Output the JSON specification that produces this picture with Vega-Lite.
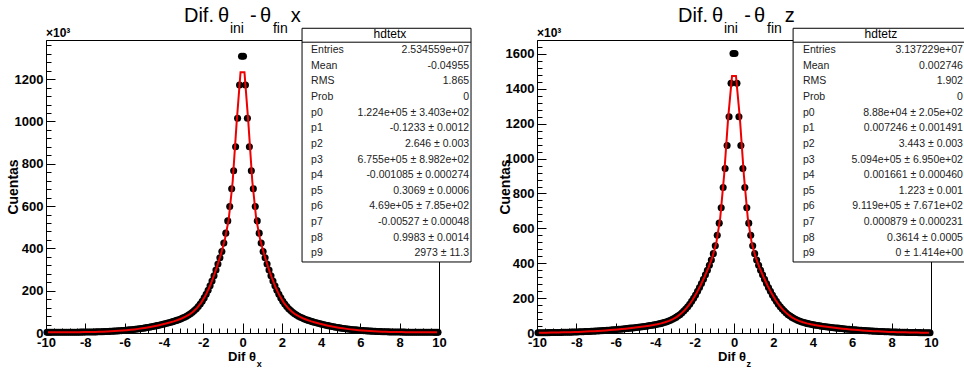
{
"$schema": "https://vega.github.io/schema/vega-lite/v6.json",
"background": "white",
"padding": {"left": 5, "top": 5, "right": 0, "bottom": 0},
"bounds": "flush",
"spacing": 98,
"config": {
  "font": "Liberation Sans",
  "view": {"stroke": "#000", "strokeWidth": 1},
  "axis": {"domainColor": "#000", "tickColor": "#000", "labelColor": "#000", "titleColor": "#000", "labelFont": "Liberation Sans", "labelFontWeight": "bold", "labelFontSize": 13, "titleFont": "Liberation Sans", "titleFontWeight": "bold", "titleFontSize": 14, "grid": false, "tickWidth": 1, "domainWidth": 1, "labelOverlap": false, "labelBound": false, "tickCount": 200},
  "text": {"font": "Liberation Sans", "color": "#000"}
},
"datasets": {
"dl": [
{"x":-9.95,"y":3.1},{"x":-9.85,"y":3.1},{"x":-9.75,"y":3.1},{"x":-9.65,"y":3.2},{"x":-9.55,"y":3.2},{"x":-9.45,"y":3.2},{"x":-9.35,"y":3.3},{"x":-9.25,"y":3.3},{"x":-9.15,"y":3.3},{"x":-9.05,"y":3.4},
{"x":-8.95,"y":3.4},{"x":-8.85,"y":3.5},{"x":-8.75,"y":3.6},{"x":-8.65,"y":3.6},{"x":-8.55,"y":3.7},{"x":-8.45,"y":3.8},{"x":-8.35,"y":3.9},{"x":-8.25,"y":4.0},{"x":-8.15,"y":4.2},{"x":-8.05,"y":4.3},
{"x":-7.95,"y":4.4},{"x":-7.85,"y":4.5},{"x":-7.75,"y":4.7},{"x":-7.65,"y":4.9},{"x":-7.55,"y":5.1},{"x":-7.45,"y":5.3},{"x":-7.35,"y":5.6},{"x":-7.25,"y":5.9},{"x":-7.15,"y":6.2},{"x":-7.05,"y":6.5},
{"x":-6.95,"y":6.9},{"x":-6.85,"y":7.3},{"x":-6.75,"y":7.8},{"x":-6.65,"y":8.2},{"x":-6.55,"y":8.7},{"x":-6.45,"y":9.3},{"x":-6.35,"y":10.0},{"x":-6.25,"y":10.6},{"x":-6.15,"y":11.3},{"x":-6.05,"y":12.0},
{"x":-5.95,"y":12.8},{"x":-5.85,"y":13.8},{"x":-5.75,"y":14.7},{"x":-5.65,"y":15.6},{"x":-5.55,"y":16.6},{"x":-5.45,"y":17.7},{"x":-5.35,"y":18.9},{"x":-5.25,"y":20.1},{"x":-5.15,"y":21.4},{"x":-5.05,"y":22.8},
{"x":-4.95,"y":24.2},{"x":-4.85,"y":25.8},{"x":-4.75,"y":27.4},{"x":-4.65,"y":29.1},{"x":-4.55,"y":30.9},{"x":-4.45,"y":32.7},{"x":-4.35,"y":34.7},{"x":-4.25,"y":36.7},{"x":-4.15,"y":38.8},{"x":-4.05,"y":41.0},
{"x":-3.95,"y":43.3},{"x":-3.85,"y":45.7},{"x":-3.75,"y":48.2},{"x":-3.65,"y":50.9},{"x":-3.55,"y":53.6},{"x":-3.45,"y":56.5},{"x":-3.35,"y":59.6},{"x":-3.25,"y":63.0},{"x":-3.15,"y":66.5},{"x":-3.05,"y":70.4},
{"x":-2.95,"y":74.7},{"x":-2.85,"y":79.5},{"x":-2.75,"y":85},{"x":-2.65,"y":91},{"x":-2.55,"y":98},{"x":-2.45,"y":106},{"x":-2.35,"y":115},{"x":-2.25,"y":125},{"x":-2.15,"y":137},{"x":-2.05,"y":150},
{"x":-1.95,"y":166},{"x":-1.85,"y":183},{"x":-1.75,"y":202},{"x":-1.65,"y":223},{"x":-1.55,"y":246},{"x":-1.45,"y":271},{"x":-1.35,"y":298},{"x":-1.25,"y":326},{"x":-1.15,"y":356},{"x":-1.05,"y":385},
{"x":-0.95,"y":425},{"x":-0.85,"y":472},{"x":-0.75,"y":530},{"x":-0.65,"y":598},{"x":-0.55,"y":682},{"x":-0.45,"y":767},{"x":-0.35,"y":880},{"x":-0.25,"y":1015},{"x":-0.15,"y":1172},{"x":-0.05,"y":1308},
{"x":0.05,"y":1308},{"x":0.15,"y":1172},{"x":0.25,"y":1015},{"x":0.35,"y":880},{"x":0.45,"y":767},{"x":0.55,"y":682},{"x":0.65,"y":598},{"x":0.75,"y":530},{"x":0.85,"y":472},{"x":0.95,"y":425},
{"x":1.05,"y":385},{"x":1.15,"y":356},{"x":1.25,"y":326},{"x":1.35,"y":298},{"x":1.45,"y":271},{"x":1.55,"y":246},{"x":1.65,"y":223},{"x":1.75,"y":202},{"x":1.85,"y":183},{"x":1.95,"y":166},
{"x":2.05,"y":150},{"x":2.15,"y":137},{"x":2.25,"y":125},{"x":2.35,"y":115},{"x":2.45,"y":106},{"x":2.55,"y":98},{"x":2.65,"y":91},{"x":2.75,"y":85},{"x":2.85,"y":79.5},{"x":2.95,"y":74.7},
{"x":3.05,"y":70.4},{"x":3.15,"y":66.5},{"x":3.25,"y":63.0},{"x":3.35,"y":59.6},{"x":3.45,"y":56.5},{"x":3.55,"y":53.6},{"x":3.65,"y":50.9},{"x":3.75,"y":48.2},{"x":3.85,"y":45.7},{"x":3.95,"y":43.3},
{"x":4.05,"y":41.0},{"x":4.15,"y":38.8},{"x":4.25,"y":36.7},{"x":4.35,"y":34.7},{"x":4.45,"y":32.7},{"x":4.55,"y":30.9},{"x":4.65,"y":29.1},{"x":4.75,"y":27.4},{"x":4.85,"y":25.8},{"x":4.95,"y":24.2},
{"x":5.05,"y":22.8},{"x":5.15,"y":21.4},{"x":5.25,"y":20.1},{"x":5.35,"y":18.9},{"x":5.45,"y":17.7},{"x":5.55,"y":16.6},{"x":5.65,"y":15.6},{"x":5.75,"y":14.7},{"x":5.85,"y":13.8},{"x":5.95,"y":12.8},
{"x":6.05,"y":12.0},{"x":6.15,"y":11.3},{"x":6.25,"y":10.6},{"x":6.35,"y":10.0},{"x":6.45,"y":9.3},{"x":6.55,"y":8.7},{"x":6.65,"y":8.2},{"x":6.75,"y":7.8},{"x":6.85,"y":7.3},{"x":6.95,"y":6.9},
{"x":7.05,"y":6.5},{"x":7.15,"y":6.2},{"x":7.25,"y":5.9},{"x":7.35,"y":5.6},{"x":7.45,"y":5.3},{"x":7.55,"y":5.1},{"x":7.65,"y":4.9},{"x":7.75,"y":4.7},{"x":7.85,"y":4.5},{"x":7.95,"y":4.4},
{"x":8.05,"y":4.3},{"x":8.15,"y":4.2},{"x":8.25,"y":4.0},{"x":8.35,"y":3.9},{"x":8.45,"y":3.8},{"x":8.55,"y":3.7},{"x":8.65,"y":3.6},{"x":8.75,"y":3.6},{"x":8.85,"y":3.5},{"x":8.95,"y":3.4},
{"x":9.05,"y":3.4},{"x":9.15,"y":3.3},{"x":9.25,"y":3.3},{"x":9.35,"y":3.3},{"x":9.45,"y":3.2},{"x":9.55,"y":3.2},{"x":9.65,"y":3.2},{"x":9.75,"y":3.1},{"x":9.85,"y":3.1},{"x":9.95,"y":3.1}
],
"fl": [
{"x":-9.9,"y":3.1},{"x":-9.7,"y":3.1},{"x":-9.5,"y":3.2},{"x":-9.3,"y":3.3},{"x":-9.1,"y":3.4},{"x":-8.9,"y":3.5},{"x":-8.7,"y":3.6},{"x":-8.5,"y":3.7},{"x":-8.3,"y":3.9},{"x":-8.1,"y":4.2},
{"x":-7.9,"y":4.5},{"x":-7.7,"y":4.8},{"x":-7.5,"y":5.2},{"x":-7.3,"y":5.8},{"x":-7.1,"y":6.4},{"x":-6.9,"y":7.1},{"x":-6.7,"y":8.0},{"x":-6.5,"y":9.0},{"x":-6.3,"y":10.3},{"x":-6.1,"y":11.7},
{"x":-5.9,"y":13.2},{"x":-5.7,"y":15.0},{"x":-5.5,"y":17.1},{"x":-5.3,"y":19.5},{"x":-5.1,"y":22.1},{"x":-4.9,"y":25.0},{"x":-4.7,"y":28.3},{"x":-4.5,"y":31.8},{"x":-4.3,"y":35.7},{"x":-4.1,"y":39.9},
{"x":-3.9,"y":44.5},{"x":-3.7,"y":49.6},{"x":-3.5,"y":55.0},{"x":-3.3,"y":61.2},{"x":-3.1,"y":68.4},{"x":-2.9,"y":77.0},{"x":-2.7,"y":87.8},{"x":-2.5,"y":101.7},{"x":-2.3,"y":119.9},{"x":-2.1,"y":143.6},
{"x":-1.9,"y":174.3},{"x":-1.7,"y":212.6},{"x":-1.5,"y":258.9},{"x":-1.3,"y":312.4},{"x":-1.1,"y":372.0},{"x":-0.9,"y":440.3},{"x":-0.7,"y":538.0},{"x":-0.5,"y":716.0},{"x":-0.3,"y":991.8},{"x":-0.1,"y":1232.6},
{"x":0.1,"y":1232.6},{"x":0.3,"y":991.8},{"x":0.5,"y":716.0},{"x":0.7,"y":538.0},{"x":0.9,"y":440.3},{"x":1.1,"y":372.0},{"x":1.3,"y":312.4},{"x":1.5,"y":258.9},{"x":1.7,"y":212.6},{"x":1.9,"y":174.3},
{"x":2.1,"y":143.6},{"x":2.3,"y":119.9},{"x":2.5,"y":101.7},{"x":2.7,"y":87.8},{"x":2.9,"y":77.0},{"x":3.1,"y":68.4},{"x":3.3,"y":61.2},{"x":3.5,"y":55.0},{"x":3.7,"y":49.6},{"x":3.9,"y":44.5},
{"x":4.1,"y":39.9},{"x":4.3,"y":35.7},{"x":4.5,"y":31.8},{"x":4.7,"y":28.3},{"x":4.9,"y":25.0},{"x":5.1,"y":22.1},{"x":5.3,"y":19.5},{"x":5.5,"y":17.1},{"x":5.7,"y":15.0},{"x":5.9,"y":13.2},
{"x":6.1,"y":11.7},{"x":6.3,"y":10.3},{"x":6.5,"y":9.0},{"x":6.7,"y":8.0},{"x":6.9,"y":7.1},{"x":7.1,"y":6.4},{"x":7.3,"y":5.8},{"x":7.5,"y":5.2},{"x":7.7,"y":4.8},{"x":7.9,"y":4.5},
{"x":8.1,"y":4.2},{"x":8.3,"y":3.9},{"x":8.5,"y":3.7},{"x":8.7,"y":3.6},{"x":8.9,"y":3.5},{"x":9.1,"y":3.4},{"x":9.3,"y":3.3},{"x":9.5,"y":3.2},{"x":9.7,"y":3.1},{"x":9.9,"y":3.1}
],
"dr": [
{"x":-9.95,"y":1.4},{"x":-9.85,"y":1.5},{"x":-9.75,"y":1.6},{"x":-9.65,"y":1.8},{"x":-9.55,"y":1.9},{"x":-9.45,"y":2.1},{"x":-9.35,"y":2.2},{"x":-9.25,"y":2.4},{"x":-9.15,"y":2.6},{"x":-9.05,"y":2.8},
{"x":-8.95,"y":3.0},{"x":-8.85,"y":3.2},{"x":-8.75,"y":3.5},{"x":-8.65,"y":3.8},{"x":-8.55,"y":4.1},{"x":-8.45,"y":4.4},{"x":-8.35,"y":4.7},{"x":-8.25,"y":5.0},{"x":-8.15,"y":5.4},{"x":-8.05,"y":5.8},
{"x":-7.95,"y":6.2},{"x":-7.85,"y":6.7},{"x":-7.75,"y":7.1},{"x":-7.65,"y":7.6},{"x":-7.55,"y":8.1},{"x":-7.45,"y":8.6},{"x":-7.35,"y":9.1},{"x":-7.25,"y":9.7},{"x":-7.15,"y":10.3},{"x":-7.05,"y":10.9},
{"x":-6.95,"y":11.6},{"x":-6.85,"y":12.3},{"x":-6.75,"y":13.0},{"x":-6.65,"y":13.8},{"x":-6.55,"y":14.5},{"x":-6.45,"y":15.3},{"x":-6.35,"y":16.2},{"x":-6.25,"y":17.1},{"x":-6.15,"y":18.0},{"x":-6.05,"y":18.9},
{"x":-5.95,"y":19.9},{"x":-5.85,"y":21.0},{"x":-5.75,"y":22.0},{"x":-5.65,"y":23.1},{"x":-5.55,"y":24.2},{"x":-5.45,"y":25.4},{"x":-5.35,"y":26.6},{"x":-5.25,"y":27.8},{"x":-5.15,"y":29.1},{"x":-5.05,"y":30.4},
{"x":-4.95,"y":31.7},{"x":-4.85,"y":33.1},{"x":-4.75,"y":34.5},{"x":-4.65,"y":36.0},{"x":-4.55,"y":37.6},{"x":-4.45,"y":39.2},{"x":-4.35,"y":40.9},{"x":-4.25,"y":42.7},{"x":-4.15,"y":44.5},{"x":-4.05,"y":46.5},
{"x":-3.95,"y":48.8},{"x":-3.85,"y":51.2},{"x":-3.75,"y":53.7},{"x":-3.65,"y":56.6},{"x":-3.55,"y":59.8},{"x":-3.45,"y":63.3},{"x":-3.35,"y":67.3},{"x":-3.25,"y":71.9},{"x":-3.15,"y":77.0},{"x":-3.05,"y":82.8},
{"x":-2.95,"y":89.4},{"x":-2.85,"y":97},{"x":-2.75,"y":105},{"x":-2.65,"y":115},{"x":-2.55,"y":125.5},{"x":-2.45,"y":137},{"x":-2.35,"y":151},{"x":-2.25,"y":165},{"x":-2.15,"y":182},{"x":-2.05,"y":199},
{"x":-1.95,"y":218},{"x":-1.85,"y":239},{"x":-1.75,"y":261},{"x":-1.65,"y":284},{"x":-1.55,"y":308},{"x":-1.45,"y":334},{"x":-1.35,"y":360},{"x":-1.25,"y":388},{"x":-1.15,"y":419},{"x":-1.05,"y":455},
{"x":-0.95,"y":500},{"x":-0.85,"y":560},{"x":-0.75,"y":630},{"x":-0.65,"y":718},{"x":-0.55,"y":834},{"x":-0.45,"y":943},{"x":-0.35,"y":1075},{"x":-0.25,"y":1240},{"x":-0.15,"y":1432},{"x":-0.05,"y":1603},
{"x":0.05,"y":1603},{"x":0.15,"y":1432},{"x":0.25,"y":1240},{"x":0.35,"y":1075},{"x":0.45,"y":943},{"x":0.55,"y":834},{"x":0.65,"y":718},{"x":0.75,"y":630},{"x":0.85,"y":560},{"x":0.95,"y":500},
{"x":1.05,"y":455},{"x":1.15,"y":419},{"x":1.25,"y":388},{"x":1.35,"y":360},{"x":1.45,"y":334},{"x":1.55,"y":308},{"x":1.65,"y":284},{"x":1.75,"y":261},{"x":1.85,"y":239},{"x":1.95,"y":218},
{"x":2.05,"y":199},{"x":2.15,"y":182},{"x":2.25,"y":165},{"x":2.35,"y":151},{"x":2.45,"y":137},{"x":2.55,"y":125.5},{"x":2.65,"y":115},{"x":2.75,"y":105},{"x":2.85,"y":97},{"x":2.95,"y":89.4},
{"x":3.05,"y":82.8},{"x":3.15,"y":77.0},{"x":3.25,"y":71.9},{"x":3.35,"y":67.3},{"x":3.45,"y":63.3},{"x":3.55,"y":59.8},{"x":3.65,"y":56.6},{"x":3.75,"y":53.7},{"x":3.85,"y":51.2},{"x":3.95,"y":48.8},
{"x":4.05,"y":46.5},{"x":4.15,"y":44.5},{"x":4.25,"y":42.7},{"x":4.35,"y":40.9},{"x":4.45,"y":39.2},{"x":4.55,"y":37.6},{"x":4.65,"y":36.0},{"x":4.75,"y":34.5},{"x":4.85,"y":33.1},{"x":4.95,"y":31.7},
{"x":5.05,"y":30.4},{"x":5.15,"y":29.1},{"x":5.25,"y":27.8},{"x":5.35,"y":26.6},{"x":5.45,"y":25.4},{"x":5.55,"y":24.2},{"x":5.65,"y":23.1},{"x":5.75,"y":22.0},{"x":5.85,"y":21.0},{"x":5.95,"y":19.9},
{"x":6.05,"y":18.9},{"x":6.15,"y":18.0},{"x":6.25,"y":17.1},{"x":6.35,"y":16.2},{"x":6.45,"y":15.3},{"x":6.55,"y":14.5},{"x":6.65,"y":13.8},{"x":6.75,"y":13.0},{"x":6.85,"y":12.3},{"x":6.95,"y":11.6},
{"x":7.05,"y":10.9},{"x":7.15,"y":10.3},{"x":7.25,"y":9.7},{"x":7.35,"y":9.1},{"x":7.45,"y":8.6},{"x":7.55,"y":8.1},{"x":7.65,"y":7.6},{"x":7.75,"y":7.1},{"x":7.85,"y":6.7},{"x":7.95,"y":6.2},
{"x":8.05,"y":5.8},{"x":8.15,"y":5.4},{"x":8.25,"y":5.0},{"x":8.35,"y":4.7},{"x":8.45,"y":4.4},{"x":8.55,"y":4.1},{"x":8.65,"y":3.8},{"x":8.75,"y":3.5},{"x":8.85,"y":3.2},{"x":8.95,"y":3.0},
{"x":9.05,"y":2.8},{"x":9.15,"y":2.6},{"x":9.25,"y":2.4},{"x":9.35,"y":2.2},{"x":9.45,"y":2.1},{"x":9.55,"y":1.9},{"x":9.65,"y":1.8},{"x":9.75,"y":1.6},{"x":9.85,"y":1.5},{"x":9.95,"y":1.4}
],
"fr": [
{"x":-9.9,"y":1.4},{"x":-9.7,"y":1.7},{"x":-9.5,"y":2.0},{"x":-9.3,"y":2.3},{"x":-9.1,"y":2.7},{"x":-8.9,"y":3.1},{"x":-8.7,"y":3.6},{"x":-8.5,"y":4.2},{"x":-8.3,"y":4.9},{"x":-8.1,"y":5.6},
{"x":-7.9,"y":6.4},{"x":-7.7,"y":7.3},{"x":-7.5,"y":8.3},{"x":-7.3,"y":9.4},{"x":-7.1,"y":10.6},{"x":-6.9,"y":11.9},{"x":-6.7,"y":13.4},{"x":-6.5,"y":14.9},{"x":-6.3,"y":16.7},{"x":-6.1,"y":18.5},
{"x":-5.9,"y":20.5},{"x":-5.7,"y":22.6},{"x":-5.5,"y":24.8},{"x":-5.3,"y":27.2},{"x":-5.1,"y":29.6},{"x":-4.9,"y":32.4},{"x":-4.7,"y":35.3},{"x":-4.5,"y":38.4},{"x":-4.3,"y":41.8},{"x":-4.1,"y":45.5},
{"x":-3.9,"y":50.0},{"x":-3.7,"y":55.1},{"x":-3.5,"y":61.5},{"x":-3.3,"y":69.5},{"x":-3.1,"y":79.7},{"x":-2.9,"y":92.9},{"x":-2.7,"y":109.8},{"x":-2.5,"y":131.3},{"x":-2.3,"y":157.9},{"x":-2.1,"y":190.3},
{"x":-1.9,"y":228.7},{"x":-1.7,"y":272.5},{"x":-1.5,"y":321.1},{"x":-1.3,"y":373.6},{"x":-1.1,"y":433.2},{"x":-0.9,"y":515.4},{"x":-0.7,"y":659.1},{"x":-0.5,"y":906.7},{"x":-0.3,"y":1228.9},{"x":-0.1,"y":1474.1},
{"x":0.1,"y":1474.1},{"x":0.3,"y":1228.9},{"x":0.5,"y":906.7},{"x":0.7,"y":659.1},{"x":0.9,"y":515.4},{"x":1.1,"y":433.2},{"x":1.3,"y":373.6},{"x":1.5,"y":321.1},{"x":1.7,"y":272.5},{"x":1.9,"y":228.7},
{"x":2.1,"y":190.3},{"x":2.3,"y":157.9},{"x":2.5,"y":131.3},{"x":2.7,"y":109.8},{"x":2.9,"y":92.9},{"x":3.1,"y":79.7},{"x":3.3,"y":69.5},{"x":3.5,"y":61.5},{"x":3.7,"y":55.1},{"x":3.9,"y":50.0},
{"x":4.1,"y":45.5},{"x":4.3,"y":41.8},{"x":4.5,"y":38.4},{"x":4.7,"y":35.3},{"x":4.9,"y":32.4},{"x":5.1,"y":29.6},{"x":5.3,"y":27.2},{"x":5.5,"y":24.8},{"x":5.7,"y":22.6},{"x":5.9,"y":20.5},
{"x":6.1,"y":18.5},{"x":6.3,"y":16.7},{"x":6.5,"y":14.9},{"x":6.7,"y":13.4},{"x":6.9,"y":11.9},{"x":7.1,"y":10.6},{"x":7.3,"y":9.4},{"x":7.5,"y":8.3},{"x":7.7,"y":7.3},{"x":7.9,"y":6.4},
{"x":8.1,"y":5.6},{"x":8.3,"y":4.9},{"x":8.5,"y":4.2},{"x":8.7,"y":3.6},{"x":8.9,"y":3.1},{"x":9.1,"y":2.7},{"x":9.3,"y":2.3},{"x":9.5,"y":2.0},{"x":9.7,"y":1.7},{"x":9.9,"y":1.4}
],
"sl": [
{"r":0,"label":"Entries","value":"2.534559e+07"},
{"r":1,"label":"Mean","value":"-0.04955"},
{"r":2,"label":"RMS","value":"1.865"},
{"r":3,"label":"Prob","value":"0"},
{"r":4,"label":"p0","value":"1.224e+05 ± 3.403e+02"},
{"r":5,"label":"p1","value":"-0.1233 ± 0.0012"},
{"r":6,"label":"p2","value":"2.646 ± 0.003"},
{"r":7,"label":"p3","value":"6.755e+05 ± 8.982e+02"},
{"r":8,"label":"p4","value":"-0.001085 ± 0.000274"},
{"r":9,"label":"p5","value":"0.3069 ± 0.0006"},
{"r":10,"label":"p6","value":"4.69e+05 ± 7.85e+02"},
{"r":11,"label":"p7","value":"-0.00527 ± 0.00048"},
{"r":12,"label":"p8","value":"0.9983 ± 0.0014"},
{"r":13,"label":"p9","value":"2973 ± 11.3"}
],
"sr": [
{"r":0,"label":"Entries","value":"3.137229e+07"},
{"r":1,"label":"Mean","value":"0.002746"},
{"r":2,"label":"RMS","value":"1.902"},
{"r":3,"label":"Prob","value":"0"},
{"r":4,"label":"p0","value":"8.88e+04 ± 2.05e+02"},
{"r":5,"label":"p1","value":"0.007246 ± 0.001491"},
{"r":6,"label":"p2","value":"3.443 ± 0.003"},
{"r":7,"label":"p3","value":"5.094e+05 ± 6.950e+02"},
{"r":8,"label":"p4","value":"0.001661 ± 0.000460"},
{"r":9,"label":"p5","value":"1.223 ± 0.001"},
{"r":10,"label":"p6","value":"9.119e+05 ± 7.671e+02"},
{"r":11,"label":"p7","value":"0.000879 ± 0.000231"},
{"r":12,"label":"p8","value":"0.3614 ± 0.0005"},
{"r":13,"label":"p9","value":"0 ± 1.414e+00"}
]
},
"hconcat": [
{
 "width": 393, "height": 293,
 "resolve": {"scale": {"y": "independent"}},
 "layer": [
  {"layer": [
   {"data": {"name": "dl"}, "mark": {"type": "circle", "size": 50, "color": "#000", "opacity": 1},
    "encoding": {
     "x": {"field": "x", "type": "quantitative", "scale": {"domain": [-10, 10], "nice": false, "zero": false},
       "axis": {"title": null, "labelOverlap": false, "tickCount": 200, "values": [-10,-9.6,-9.2,-8.8,-8.4,-8,-7.6,-7.2,-6.8,-6.4,-6,-5.6,-5.2,-4.8,-4.4,-4,-3.6,-3.2,-2.8,-2.4,-2,-1.6,-1.2,-0.8,-0.4,0,0.4,0.8,1.2,1.6,2,2.4,2.8,3.2,3.6,4,4.4,4.8,5.2,5.6,6,6.4,6.8,7.2,7.6,8,8.4,8.8,9.2,9.6,10],
         "labelExpr": "abs(datum.value % 2) < 0.001 ? (datum.value < 0 ? '-' : '') + abs(datum.value) : ''",
         "tickSize": {"condition": {"test": "abs(datum.value % 2) < 0.001", "value": -10}, "value": -5},
         "labelPadding": 13, "labelFlush": false, "labelBaseline": "top"}},
     "y": {"field": "y", "type": "quantitative", "scale": {"domain": [0, 1385], "nice": false, "zero": true},
       "axis": {"title": "Cuentas", "titleX": -26, "titlePadding": -6, "titleAngle": -90, "titleBaseline": "bottom", "titleAlign": "center", "labelOverlap": false, "tickCount": 200, "values": [0,40,80,120,160,200,240,280,320,360,400,440,480,520,560,600,640,680,720,760,800,840,880,920,960,1000,1040,1080,1120,1160,1200,1240,1280,1320,1360],
         "labelExpr": "datum.value % 200 === 0 ? '' + datum.value : ''",
         "tickSize": {"condition": {"test": "datum.value % 200 === 0", "value": -9}, "value": -5},
         "labelPadding": 12}}
    }},
   {"data": {"name": "fl"}, "mark": {"type": "line", "color": "#ee0000", "strokeWidth": 2},
    "encoding": {"x": {"field": "x", "type": "quantitative"}, "y": {"field": "y", "type": "quantitative"}}},
   {"data": {"values": [{}]}, "mark": {"type": "text", "text": "Dif.", "align": "left", "baseline": "alphabetic", "fontSize": 20}, "encoding": {"x": {"datum": -2.98}, "y": {"datum": 1471}}},
   {"data": {"values": [{}]}, "mark": {"type": "text", "text": "θ", "align": "left", "baseline": "alphabetic", "fontSize": 20}, "encoding": {"x": {"datum": -1.25}, "y": {"datum": 1471}}},
   {"data": {"values": [{}]}, "mark": {"type": "text", "text": "ini", "align": "left", "baseline": "alphabetic", "fontSize": 14}, "encoding": {"x": {"datum": -0.64}, "y": {"datum": 1419}}},
   {"data": {"values": [{}]}, "mark": {"type": "text", "text": "-", "align": "left", "baseline": "alphabetic", "fontSize": 20}, "encoding": {"x": {"datum": 0.38}, "y": {"datum": 1471}}},
   {"data": {"values": [{}]}, "mark": {"type": "text", "text": "θ", "align": "left", "baseline": "alphabetic", "fontSize": 20}, "encoding": {"x": {"datum": 0.89}, "y": {"datum": 1471}}},
   {"data": {"values": [{}]}, "mark": {"type": "text", "text": "fin", "align": "left", "baseline": "alphabetic", "fontSize": 14}, "encoding": {"x": {"datum": 1.55}, "y": {"datum": 1419}}},
   {"data": {"values": [{}]}, "mark": {"type": "text", "text": "x", "align": "left", "baseline": "alphabetic", "fontSize": 20}, "encoding": {"x": {"datum": 2.45}, "y": {"datum": 1471}}},
   {"data": {"values": [{}]}, "mark": {"type": "text", "text": "×10³", "align": "left", "baseline": "alphabetic", "fontSize": 12, "fontWeight": "bold"}, "encoding": {"x": {"datum": -10}, "y": {"datum": 1400}}},
   {"data": {"values": [{}]}, "mark": {"type": "text", "text": "Dif θ", "align": "right", "baseline": "alphabetic", "fontSize": 13, "fontWeight": "bold"}, "encoding": {"x": {"datum": 0.69}, "y": {"datum": -132}}},
   {"data": {"values": [{}]}, "mark": {"type": "text", "text": "x", "align": "left", "baseline": "alphabetic", "fontSize": 9, "fontWeight": "bold"}, "encoding": {"x": {"datum": 0.72}, "y": {"datum": -161}}}
  ]},
  {"layer": [
   {"data": {"values": [{}]}, "mark": {"type": "rect", "fill": "#fff", "stroke": "#000", "strokeWidth": 1},
    "encoding": {"x": {"datum": 3.03}, "x2": {"datum": 11.63}, "y": {"datum": -1.39, "scale": {"domain": [-0.64, 18.09], "reverse": true, "nice": false, "zero": false}, "axis": null}, "y2": {"datum": 13.55}}},
   {"data": {"values": [{}]}, "mark": {"type": "rule", "stroke": "#000", "strokeWidth": 1},
    "encoding": {"x": {"datum": 3.03}, "x2": {"datum": 11.63}, "y": {"datum": -0.5}}},
   {"data": {"values": [{}]}, "mark": {"type": "text", "text": "hdtetx", "align": "center", "baseline": "middle", "fontSize": 12},
    "encoding": {"x": {"datum": 7.5}, "y": {"datum": -1}}},
   {"data": {"name": "sl"}, "mark": {"type": "text", "align": "left", "baseline": "middle", "fontSize": 10.5, "color": "#222"},
    "encoding": {"x": {"datum": 3.49}, "y": {"field": "r", "type": "quantitative"}, "text": {"field": "label"}}},
   {"data": {"name": "sl"}, "mark": {"type": "text", "align": "right", "baseline": "middle", "fontSize": 10.5, "color": "#222"},
    "encoding": {"x": {"datum": 11.53}, "y": {"field": "r", "type": "quantitative"}, "text": {"field": "value"}}}
  ]}
 ]
},
{
 "width": 394, "height": 293,
 "resolve": {"scale": {"y": "independent"}},
 "layer": [
  {"layer": [
   {"data": {"name": "dr"}, "mark": {"type": "circle", "size": 50, "color": "#000", "opacity": 1},
    "encoding": {
     "x": {"field": "x", "type": "quantitative", "scale": {"domain": [-10, 10], "nice": false, "zero": false},
       "axis": {"title": null, "labelOverlap": false, "tickCount": 200, "values": [-10,-9.6,-9.2,-8.8,-8.4,-8,-7.6,-7.2,-6.8,-6.4,-6,-5.6,-5.2,-4.8,-4.4,-4,-3.6,-3.2,-2.8,-2.4,-2,-1.6,-1.2,-0.8,-0.4,0,0.4,0.8,1.2,1.6,2,2.4,2.8,3.2,3.6,4,4.4,4.8,5.2,5.6,6,6.4,6.8,7.2,7.6,8,8.4,8.8,9.2,9.6,10],
         "labelExpr": "abs(datum.value % 2) < 0.001 ? (datum.value < 0 ? '-' : '') + abs(datum.value) : ''",
         "tickSize": {"condition": {"test": "abs(datum.value % 2) < 0.001", "value": -10}, "value": -5},
         "labelPadding": 13, "labelFlush": false, "labelBaseline": "top"}},
     "y": {"field": "y", "type": "quantitative", "scale": {"domain": [0, 1680], "nice": false, "zero": true},
       "axis": {"title": "Cuentas", "titleX": -25, "titlePadding": -5, "titleAngle": -90, "titleBaseline": "bottom", "titleAlign": "center", "labelOverlap": false, "tickCount": 200, "values": [0,40,80,120,160,200,240,280,320,360,400,440,480,520,560,600,640,680,720,760,800,840,880,920,960,1000,1040,1080,1120,1160,1200,1240,1280,1320,1360,1400,1440,1480,1520,1560,1600,1640],
         "labelExpr": "datum.value % 200 === 0 ? '' + datum.value : ''",
         "tickSize": {"condition": {"test": "datum.value % 200 === 0", "value": -9}, "value": -5},
         "labelPadding": 12}}
    }},
   {"data": {"name": "fr"}, "mark": {"type": "line", "color": "#ee0000", "strokeWidth": 2},
    "encoding": {"x": {"field": "x", "type": "quantitative"}, "y": {"field": "y", "type": "quantitative"}}},
   {"data": {"values": [{}]}, "mark": {"type": "text", "text": "Dif.", "align": "left", "baseline": "alphabetic", "fontSize": 20}, "encoding": {"x": {"datum": -2.84}, "y": {"datum": 1781}}},
   {"data": {"values": [{}]}, "mark": {"type": "text", "text": "θ", "align": "left", "baseline": "alphabetic", "fontSize": 20}, "encoding": {"x": {"datum": -1.12}, "y": {"datum": 1781}}},
   {"data": {"values": [{}]}, "mark": {"type": "text", "text": "ini", "align": "left", "baseline": "alphabetic", "fontSize": 14}, "encoding": {"x": {"datum": -0.51}, "y": {"datum": 1718}}},
   {"data": {"values": [{}]}, "mark": {"type": "text", "text": "-", "align": "left", "baseline": "alphabetic", "fontSize": 20}, "encoding": {"x": {"datum": 0.52}, "y": {"datum": 1781}}},
   {"data": {"values": [{}]}, "mark": {"type": "text", "text": "θ", "align": "left", "baseline": "alphabetic", "fontSize": 20}, "encoding": {"x": {"datum": 1.02}, "y": {"datum": 1781}}},
   {"data": {"values": [{}]}, "mark": {"type": "text", "text": "fin", "align": "left", "baseline": "alphabetic", "fontSize": 14}, "encoding": {"x": {"datum": 1.68}, "y": {"datum": 1718}}},
   {"data": {"values": [{}]}, "mark": {"type": "text", "text": "z", "align": "left", "baseline": "alphabetic", "fontSize": 20}, "encoding": {"x": {"datum": 2.57}, "y": {"datum": 1781}}},
   {"data": {"values": [{}]}, "mark": {"type": "text", "text": "×10³", "align": "left", "baseline": "alphabetic", "fontSize": 12, "fontWeight": "bold"}, "encoding": {"x": {"datum": -10}, "y": {"datum": 1695}}},
   {"data": {"values": [{}]}, "mark": {"type": "text", "text": "Dif θ", "align": "right", "baseline": "alphabetic", "fontSize": 13, "fontWeight": "bold"}, "encoding": {"x": {"datum": 0.61}, "y": {"datum": -160}}},
   {"data": {"values": [{}]}, "mark": {"type": "text", "text": "z", "align": "left", "baseline": "alphabetic", "fontSize": 9, "fontWeight": "bold"}, "encoding": {"x": {"datum": 0.64}, "y": {"datum": -195}}}
  ]},
  {"layer": [
   {"data": {"values": [{}]}, "mark": {"type": "rect", "fill": "#fff", "stroke": "#000", "strokeWidth": 1},
    "encoding": {"x": {"datum": 3.0}, "x2": {"datum": 12.0}, "y": {"datum": -1.39, "scale": {"domain": [-0.64, 18.09], "reverse": true, "nice": false, "zero": false}, "axis": null}, "y2": {"datum": 13.55}}},
   {"data": {"values": [{}]}, "mark": {"type": "rule", "stroke": "#000", "strokeWidth": 1},
    "encoding": {"x": {"datum": 3.0}, "x2": {"datum": 12.0}, "y": {"datum": -0.5}}},
   {"data": {"values": [{}]}, "mark": {"type": "text", "text": "hdtetz", "align": "center", "baseline": "middle", "fontSize": 12},
    "encoding": {"x": {"datum": 7.46}, "y": {"datum": -1}}},
   {"data": {"name": "sr"}, "mark": {"type": "text", "align": "left", "baseline": "middle", "fontSize": 10.5, "color": "#222"},
    "encoding": {"x": {"datum": 3.5}, "y": {"field": "r", "type": "quantitative"}, "text": {"field": "label"}}},
   {"data": {"name": "sr"}, "mark": {"type": "text", "align": "right", "baseline": "middle", "fontSize": 10.5, "color": "#222"},
    "encoding": {"x": {"datum": 11.62}, "y": {"field": "r", "type": "quantitative"}, "text": {"field": "value"}}}
  ]}
 ]
}
]
}
